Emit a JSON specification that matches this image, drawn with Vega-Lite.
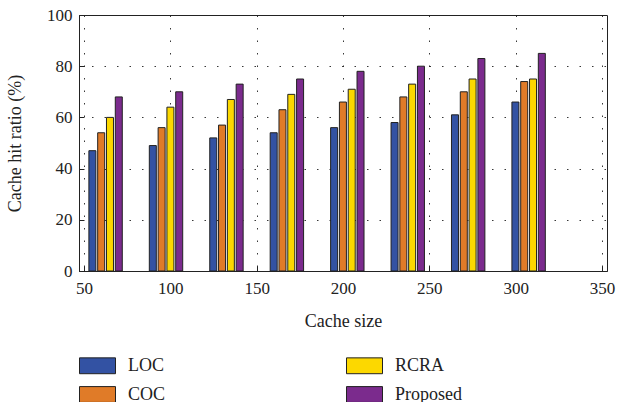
{
  "$schema": "https://vega.github.io/schema/vega-lite/v6.json",
  "width": 528,
  "height": 256,
  "autosize": {"type": "none"},
  "padding": {"left": 79, "top": 15, "right": 18, "bottom": 131},
  "config": {
    "font": "Liberation Serif",
    "view": {"stroke": "#222", "strokeWidth": 1},
    "axis": {"labelFont": "Liberation Serif", "titleFont": "Liberation Serif", "labelFontSize": 17, "titleFontSize": 18, "titleFontWeight": "normal", "labelColor": "#222", "titleColor": "#222", "domainColor": "#222", "tickColor": "#222"}
  },
  "data": {"values": [
    {"size": 62.5, "series": "LOC", "ratio": 47}, {"size": 62.5, "series": "COC", "ratio": 54}, {"size": 62.5, "series": "RCRA", "ratio": 60}, {"size": 62.5, "series": "Proposed", "ratio": 68},
    {"size": 97.5, "series": "LOC", "ratio": 49}, {"size": 97.5, "series": "COC", "ratio": 56}, {"size": 97.5, "series": "RCRA", "ratio": 64}, {"size": 97.5, "series": "Proposed", "ratio": 70},
    {"size": 132.5, "series": "LOC", "ratio": 52}, {"size": 132.5, "series": "COC", "ratio": 57}, {"size": 132.5, "series": "RCRA", "ratio": 67}, {"size": 132.5, "series": "Proposed", "ratio": 73},
    {"size": 167.5, "series": "LOC", "ratio": 54}, {"size": 167.5, "series": "COC", "ratio": 63}, {"size": 167.5, "series": "RCRA", "ratio": 69}, {"size": 167.5, "series": "Proposed", "ratio": 75},
    {"size": 202.5, "series": "LOC", "ratio": 56}, {"size": 202.5, "series": "COC", "ratio": 66}, {"size": 202.5, "series": "RCRA", "ratio": 71}, {"size": 202.5, "series": "Proposed", "ratio": 78},
    {"size": 237.5, "series": "LOC", "ratio": 58}, {"size": 237.5, "series": "COC", "ratio": 68}, {"size": 237.5, "series": "RCRA", "ratio": 73}, {"size": 237.5, "series": "Proposed", "ratio": 80},
    {"size": 272.5, "series": "LOC", "ratio": 61}, {"size": 272.5, "series": "COC", "ratio": 70}, {"size": 272.5, "series": "RCRA", "ratio": 75}, {"size": 272.5, "series": "Proposed", "ratio": 83},
    {"size": 307.5, "series": "LOC", "ratio": 66}, {"size": 307.5, "series": "COC", "ratio": 74}, {"size": 307.5, "series": "RCRA", "ratio": 75}, {"size": 307.5, "series": "Proposed", "ratio": 85}
  ]},
  "encoding": {
    "x": {"field": "size", "type": "quantitative", "title": "Cache size",
      "scale": {"domain": [50, 350], "nice": false, "zero": false},
      "axis": {"values": [50, 100, 150, 200, 250, 300, 350], "grid": true, "gridDash": [1.5, 11], "gridColor": "#222", "gridOpacity": 0.9, "tickSize": -5, "labelPadding": 14, "titlePadding": 16, "labelFlush": false}},
    "y": {"field": "ratio", "type": "quantitative", "title": "Cache hit ratio (%)", "stack": null,
      "scale": {"domain": [0, 100], "nice": false},
      "axis": {"values": [0, 20, 40, 60, 80, 100], "grid": true, "gridDash": [1.5, 11], "gridColor": "#222", "gridOpacity": 0.9, "tickSize": -5, "labelPadding": 12, "titlePadding": 22}},
    "color": {"field": "series", "type": "nominal",
      "scale": {"domain": ["LOC", "RCRA", "COC", "Proposed"], "range": ["#3352A3", "#FCD800", "#E07B28", "#7B2B8D"]},
      "legend": {"title": null, "orient": "none", "legendX": 0, "legendY": 332, "columns": 2, "direction": "horizontal", "columnPadding": 178, "rowPadding": -9,
        "symbolType": "M-1,-0.44H1V0.44H-1Z", "symbolSize": 1296, "symbolStrokeColor": "#222", "symbolStrokeWidth": 1, "symbolOpacity": 1,
        "labelFont": "Liberation Serif", "labelFontSize": 18, "labelColor": "#222", "labelOffset": 12}}
  },
  "layer": [
    {"transform": [{"filter": "datum.series === 'LOC'"}], "mark": {"type": "bar", "width": 7, "xOffset": -13.2, "stroke": "#222", "strokeWidth": 1}},
    {"transform": [{"filter": "datum.series === 'COC'"}], "mark": {"type": "bar", "width": 7, "xOffset": -4.4, "stroke": "#222", "strokeWidth": 1}},
    {"transform": [{"filter": "datum.series === 'RCRA'"}], "mark": {"type": "bar", "width": 7, "xOffset": 4.4, "stroke": "#222", "strokeWidth": 1}},
    {"transform": [{"filter": "datum.series === 'Proposed'"}], "mark": {"type": "bar", "width": 7, "xOffset": 13.2, "stroke": "#222", "strokeWidth": 1}}
  ]
}
